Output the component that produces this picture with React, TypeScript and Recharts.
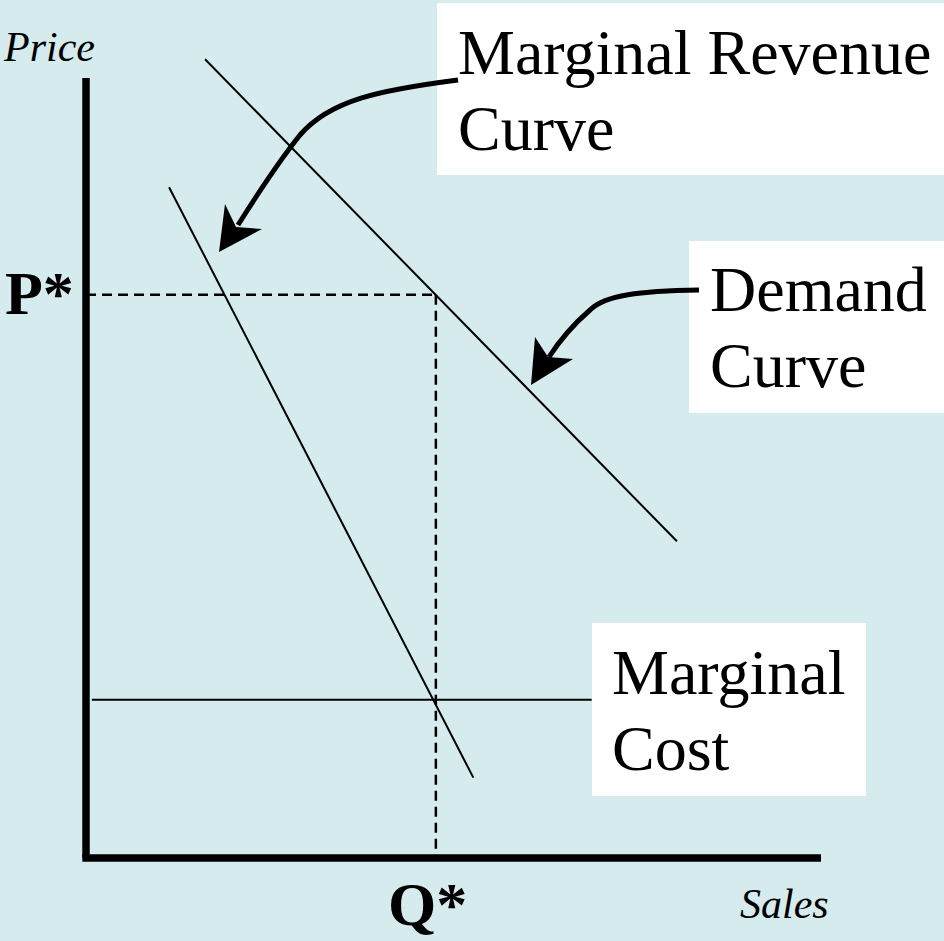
import React from 'react'
import { LineChart, Line, XAxis, YAxis, ReferenceLine } from 'recharts'

// Quantity (q) runs 0..10 along the sales axis, price (p) 0..10 up the price axis
const demandCurve = [
  { q: 1.62, p: 10.24 },
  { q: 8.04, p: 4.06 },
]
const marginalRevenue = [
  { q: 1.13, p: 8.6 },
  { q: 5.27, p: 1.03 },
]
const marginalCost = [
  { q: 0.08, p: 2.03 },
  { q: 6.88, p: 2.03 },
]
const QSTAR = 4.76
const PSTAR = 7.22
const AXIS_MAX_Q = 10
const AXIS_MAX_P = 10

const W = 944
const H = 941
const BG = '#d6ebee'
const SERIF = '"Liberation Serif", "Times New Roman", serif'

function Annotations() {
  return (
    <svg width={W} height={H} style={{ position: 'absolute', left: 0, top: 0 }}>
      {/* axis labels */}
      <text x={4} y={61} fontFamily={SERIF} fontStyle="italic" fontSize={42}>Price</text>
      <text x={740} y={918} fontFamily={SERIF} fontStyle="italic" fontSize={42}>Sales</text>
      <text x={5} y={314} fontFamily={SERIF} fontWeight="bold" fontSize={62}>P*</text>
      <text x={388} y={925} fontFamily={SERIF} fontWeight="bold" fontSize={62}>Q*</text>

      {/* label boxes */}
      <rect x={437} y={3} width={507} height={172} fill="#fff" />
      <text x={458} y={74} fontFamily={SERIF} fontSize={64}>Marginal Revenue</text>
      <text x={458} y={150} fontFamily={SERIF} fontSize={64}>Curve</text>

      <rect x={689} y={241} width={255} height={172} fill="#fff" />
      <text x={710} y={311} fontFamily={SERIF} fontSize={64}>Demand</text>
      <text x={710} y={387} fontFamily={SERIF} fontSize={64}>Curve</text>

      <rect x={592} y={623} width={274} height={173} fill="#fff" />
      <text x={612} y={694} fontFamily={SERIF} fontSize={64}>Marginal</text>
      <text x={612} y={770} fontFamily={SERIF} fontSize={64}>Cost</text>

      {/* pointer arrows */}
      <path d="M458,80 C380,90 330,100 300,135 C280,160 260,190 238,225" fill="none" stroke="#000" strokeWidth={5} />
      <polygon points="219,252 225,204 236,227 262,229" fill="#000" />
      <path d="M699,290 C640,291 605,295 590,310 C575,323 560,340 549,357" fill="none" stroke="#000" strokeWidth={5} />
      <polygon points="531,385 535,337 548,357 573,359" fill="#000" />
    </svg>
  )
}

export default function App() {
  return (
    <div style={{ position: 'fixed', left: 0, top: 0, width: W, height: H, background: BG, overflow: 'hidden' }}>
      <LineChart width={W} height={H} margin={{ top: 0, right: 123, bottom: 83, left: 86 }}>
        <XAxis type="number" dataKey="q" domain={[0, 10]} allowDataOverflow hide />
        <YAxis type="number" dataKey="p" domain={[0, 11]} allowDataOverflow hide />
        <Line data={demandCurve} dataKey="p" stroke="#000" strokeWidth={2} dot={false} activeDot={false} isAnimationActive={false} />
        <Line data={marginalRevenue} dataKey="p" stroke="#000" strokeWidth={2} dot={false} activeDot={false} isAnimationActive={false} />
        <Line data={marginalCost} dataKey="p" stroke="#000" strokeWidth={2} dot={false} activeDot={false} isAnimationActive={false} />
        {/* equilibrium guides */}
        <ReferenceLine segment={[{ x: 0, y: PSTAR }, { x: QSTAR, y: PSTAR }]} stroke="#000" strokeWidth={2.5} strokeDasharray="10 6" ifOverflow="visible" />
        <ReferenceLine segment={[{ x: QSTAR, y: PSTAR }, { x: QSTAR, y: 0 }]} stroke="#000" strokeWidth={2.5} strokeDasharray="10 6" ifOverflow="visible" />
        {/* thick axes */}
        <ReferenceLine segment={[{ x: 0, y: 0 }, { x: 0, y: AXIS_MAX_P }]} stroke="#000" strokeWidth={7.5} ifOverflow="visible" />
        <ReferenceLine segment={[{ x: -0.05, y: 0 }, { x: AXIS_MAX_Q, y: 0 }]} stroke="#000" strokeWidth={7.5} ifOverflow="visible" />
      </LineChart>
      <Annotations />
    </div>
  )
}
